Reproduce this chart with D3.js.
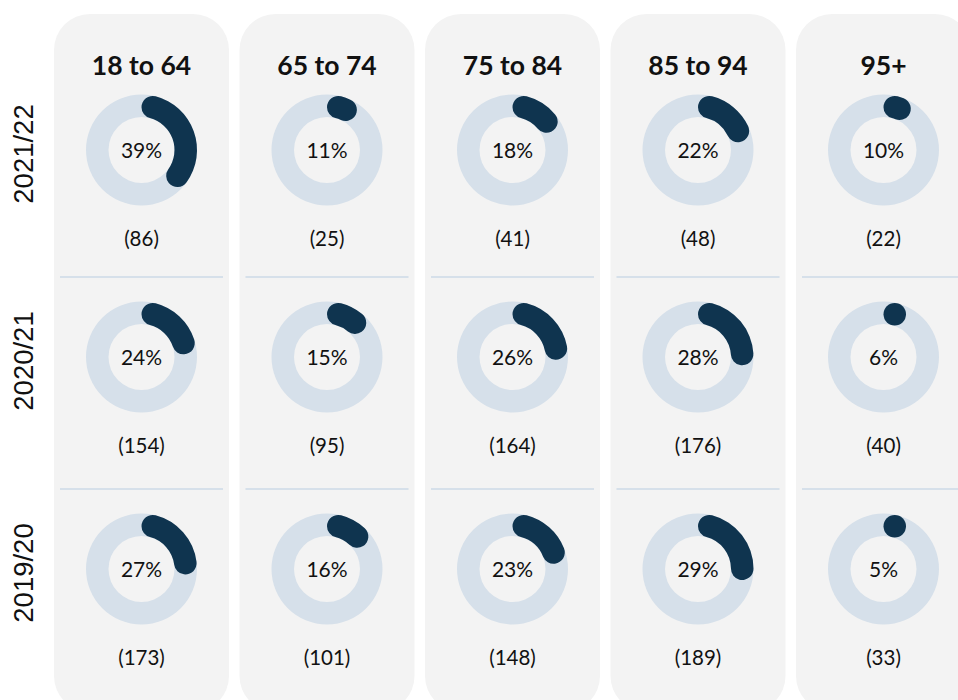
<!DOCTYPE html>
<html>
<head>
<meta charset="utf-8">
<script src="https://cdn.jsdelivr.net/npm/d3@7/dist/d3.min.js"></script>
<style>
  html, body { margin: 0; padding: 0; background: #ffffff; }
  svg { display: block; }
</style>
</head>
<body>
<svg id="chart" width="958" height="700"></svg>
<script>
const ageGroups = ["18 to 64", "65 to 74", "75 to 84", "85 to 94", "95+"];
const years = ["2021/22", "2020/21", "2019/20"];
const pct2021_22 = [39, 11, 18, 22, 10];
const count2021_22 = [86, 25, 41, 48, 22];
const pct2020_21 = [24, 15, 26, 28, 6];
const count2020_21 = [154, 95, 164, 176, 40];
const pct2019_20 = [27, 16, 23, 29, 5];
const count2019_20 = [173, 101, 148, 189, 33];

const pctByYear = [pct2021_22, pct2020_21, pct2019_20];
const countByYear = [count2021_22, count2020_21, count2019_20];

const cells = [];
years.forEach((yr, ri) => {
  ageGroups.forEach((ag, ci) => {
    cells.push({ year: yr, age: ag, pct: pctByYear[ri][ci], n: countByYear[ri][ci], ri, ci });
  });
});

const svg = d3.select("#chart");

const x = d3.scaleBand().domain(ageGroups).range([54, 971]).paddingInner(10.5 / 185.5).paddingOuter(0);
const y = d3.scaleOrdinal().domain(years).range([150, 357, 569]);
const angle = d3.scaleLinear().domain([0, 100]).range([0, 2 * Math.PI]);

const COLORS = { panel: "#f3f3f3", track: "#d6e0ea", arc: "#0f344f", text: "#111111" };
const rOuter = 55.5, rInner = 33;
const capR = (rOuter - rInner) / 2, midR = (rOuter + rInner) / 2;
const capAngle = Math.asin(capR / midR);

// panels
svg.selectAll("rect.panel").data(ageGroups).join("rect")
  .attr("class", "panel")
  .attr("x", d => x(d)).attr("y", 14)
  .attr("width", x.bandwidth()).attr("height", 698)
  .attr("rx", 36).attr("ry", 36)
  .attr("fill", COLORS.panel);

// headers
svg.selectAll("text.header").data(ageGroups).join("text")
  .attr("class", "header")
  .attr("x", d => x(d) + x.bandwidth() / 2).attr("y", 75)
  .attr("text-anchor", "middle")
  .attr("font-family", "Lato, 'Open Sans', sans-serif")
  .attr("font-weight", 700).attr("font-size", 26.5)
  .attr("fill", COLORS.text)
  .text(d => d);

// separators
const sepData = [];
years.slice(1).forEach(yr => ageGroups.forEach(ag => sepData.push({ yr, ag })));
svg.selectAll("line.sep").data(sepData).join("line")
  .attr("class", "sep")
  .attr("x1", d => x(d.ag) + 6).attr("x2", d => x(d.ag) + x.bandwidth() - 6)
  .attr("y1", d => y(d.yr) - 80).attr("y2", d => y(d.yr) - 80)
  .attr("stroke", COLORS.track).attr("stroke-width", 2);

// row labels
svg.selectAll("text.rowlab").data(years).join("text")
  .attr("class", "rowlab")
  .attr("transform", d => `translate(33,${y(d) + 4}) rotate(-90)`)
  .attr("text-anchor", "middle")
  .attr("font-family", "'Liberation Sans', Arial, sans-serif")
  .attr("font-size", 27.5)
  .attr("fill", COLORS.text)
  .text(d => d);

const trackArc = d3.arc().innerRadius(rInner).outerRadius(rOuter).startAngle(0).endAngle(2 * Math.PI);
const valArc = d3.arc().innerRadius(rInner).outerRadius(rOuter).cornerRadius(capR)
  .startAngle(0).endAngle(d => angle(d.pct));

const g = svg.selectAll("g.cell").data(cells).join("g")
  .attr("class", "cell")
  .attr("transform", d => `translate(${x(d.age) + x.bandwidth() / 2},${y(d.year)})`);

g.append("path").attr("d", trackArc()).attr("fill", COLORS.track);
// full arcs for values long enough to hold both rounded ends
g.filter(d => angle(d.pct) >= 2 * capAngle)
  .append("path").attr("d", d => valArc(d)).attr("fill", COLORS.arc);
// very small values: drawn as the rounded start cap only (a dot)
g.filter(d => angle(d.pct) < 2 * capAngle)
  .append("circle")
  .attr("cx", midR * Math.sin(capAngle))
  .attr("cy", -midR * Math.cos(capAngle))
  .attr("r", capR)
  .attr("fill", COLORS.arc);

g.append("text")
  .attr("x", 0).attr("y", 8)
  .attr("text-anchor", "middle")
  .attr("font-family", "Lato, 'Open Sans', sans-serif")
  .attr("font-size", 21)
  .attr("fill", COLORS.text)
  .text(d => d.pct + "%");

g.append("text")
  .attr("x", 0).attr("y", 96)
  .attr("text-anchor", "middle")
  .attr("font-family", "Lato, 'Open Sans', sans-serif")
  .attr("font-size", 20.5)
  .attr("fill", COLORS.text)
  .text(d => "(" + d.n + ")");
</script>
</body>
</html>
